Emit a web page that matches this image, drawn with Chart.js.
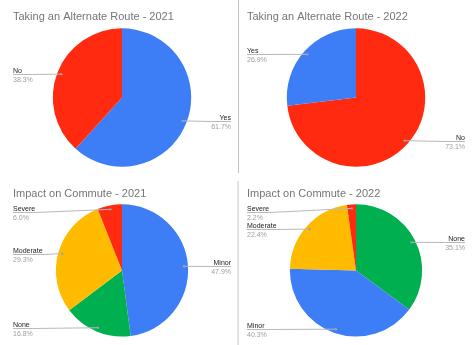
<!DOCTYPE html>
<html>
<head>
<meta charset="utf-8">
<script src="https://cdn.jsdelivr.net/npm/chart.js@4/dist/chart.umd.min.js"></script>
<style>
  html, body { margin: 0; padding: 0; background: #fff; width: 475px; height: 345px; overflow: hidden; }
  .cell { position: absolute; }
  .cell canvas { display: block; }
  .divider { position: absolute; }
</style>
</head>
<body>
<div class="cell" style="left:0;top:0"><canvas id="route2021" width="237" height="172"></canvas></div>
<div class="cell" style="left:234px;top:0"><canvas id="route2022" width="237" height="172"></canvas></div>
<div class="cell" style="left:0;top:177px"><canvas id="impact2021" width="237" height="168"></canvas></div>
<div class="cell" style="left:234px;top:177px"><canvas id="impact2022" width="237" height="168"></canvas></div>
<div class="divider" style="left:238px;top:0;width:1px;height:173px;background:#c2c2c2"></div>
<div class="divider" style="left:237px;top:181px;width:2px;height:164px;background:#e4e4e4"></div>
<script>
// Survey results, in percent
const routeTitle2021 = 'Taking an Alternate Route - 2021';
const routeLabels2021 = ['Yes', 'No'];
const routeValues2021 = [61.7, 38.3];

const routeTitle2022 = 'Taking an Alternate Route - 2022';
const routeLabels2022 = ['No', 'Yes'];
const routeValues2022 = [73.1, 26.9];

const impactTitle2021 = 'Impact on Commute - 2021';
const impactLabels2021 = ['Minor', 'None', 'Moderate', 'Severe'];
const impactValues2021 = [47.9, 16.8, 29.3, 6.0];

const impactTitle2022 = 'Impact on Commute - 2022';
const impactLabels2022 = ['None', 'Minor', 'Moderate', 'Severe'];
const impactValues2022 = [35.1, 40.3, 22.4, 2.2];

// One colour per answer, shared across all four pies
const answerColors = {
  Yes: '#3d7ef7', No: '#ff2a10',
  Minor: '#3d7ef7', None: '#00af4f', Moderate: '#ffbb00', Severe: '#ff2a10'
};

const FONT = '"Liberation Sans", Arial, sans-serif';

// Outside labels with leader lines: name + percentage, pinned to each slice
const sliceLabels = {
  id: 'sliceLabels',
  afterDatasetsDraw(chart) {
    const ctx = chart.ctx;
    const meta = chart.getDatasetMeta(0);
    const ds = chart.data.datasets[0];
    const area = chart.chartArea;
    const pad = chart.options.layout.padding;
    const leftX = area.left;
    const rightX = chart.width - pad.right;

    const items = meta.data.map((arc, i) => {
      const p = arc.getProps(['x', 'y', 'startAngle', 'endAngle', 'outerRadius'], true);
      const mid = (p.startAngle + p.endAngle) / 2;
      const r = p.outerRadius * 0.94;
      const ax = p.x + Math.cos(mid) * r;
      const ay = p.y + Math.sin(mid) * r;
      return { i, ax, ay, right: Math.cos(mid) >= 0, y: Math.max(ay, area.top + 8) };
    });

    // keep labels on the same side from overlapping
    [true, false].forEach(side => {
      const list = items.filter(it => it.right === side).sort((a, b) => a.y - b.y);
      for (let k = 1; k < list.length; k++) {
        if (list[k].y - list[k - 1].y < 16) list[k].y = list[k - 1].y + 16;
      }
    });

    ctx.save();
    ctx.font = '7px ' + FONT;
    items.forEach(it => {
      const name = chart.data.labels[it.i];
      const pct = ds.data[it.i].toFixed(1) + '%';
      const w = Math.max(ctx.measureText(name).width, ctx.measureText(pct).width);
      const ly = Math.round(it.y) + 0.5;

      ctx.strokeStyle = '#b8b8b8';
      ctx.lineWidth = 1;
      ctx.beginPath();
      if (it.right) {
        ctx.moveTo(rightX, ly);
        ctx.lineTo(rightX - w, ly);
      } else {
        ctx.moveTo(leftX, ly);
        ctx.lineTo(leftX + w, ly);
      }
      ctx.lineTo(it.ax, it.ay);
      ctx.stroke();

      ctx.fillStyle = '#a0a0a0';
      ctx.beginPath();
      ctx.arc(it.ax, it.ay, 1.2, 0, Math.PI * 2);
      ctx.fill();

      const tx = it.right ? rightX : leftX;
      ctx.textAlign = it.right ? 'right' : 'left';
      ctx.textBaseline = 'alphabetic';
      ctx.fillStyle = '#222222';
      ctx.fillText(name, tx, ly - 2);
      ctx.fillStyle = '#9e9e9e';
      ctx.fillText(pct, tx, ly + 7.5);
    });
    ctx.restore();
  }
};

function pieConfig(title, labels, values, titleBottom, padBottom) {
  return {
    type: 'pie',
    data: {
      labels: labels,
      datasets: [{
        data: values,
        backgroundColor: labels.map(l => answerColors[l]),
        borderWidth: 0
      }]
    },
    options: {
      responsive: false,
      animation: false,
      devicePixelRatio: 1,
      layout: { padding: { top: 0, left: 13, right: 6, bottom: padBottom } },
      plugins: {
        legend: { display: false },
        tooltip: { enabled: false },
        title: {
          display: true,
          text: title,
          align: 'start',
          color: '#757575',
          font: { family: FONT, size: 11, weight: 'normal' },
          padding: { top: 10, bottom: titleBottom }
        }
      }
    },
    plugins: [sliceLabels]
  };
}

new Chart(document.getElementById('route2021'),
  pieConfig(routeTitle2021, routeLabels2021, routeValues2021, 5.1, 5.3));
new Chart(document.getElementById('route2022'),
  pieConfig(routeTitle2022, routeLabels2022, routeValues2022, 5.1, 5.3));
new Chart(document.getElementById('impact2021'),
  pieConfig(impactTitle2021, impactLabels2021, impactValues2021, 4.1, 8.5));
new Chart(document.getElementById('impact2022'),
  pieConfig(impactTitle2022, impactLabels2022, impactValues2022, 4.1, 8.5));
</script>
</body>
</html>
